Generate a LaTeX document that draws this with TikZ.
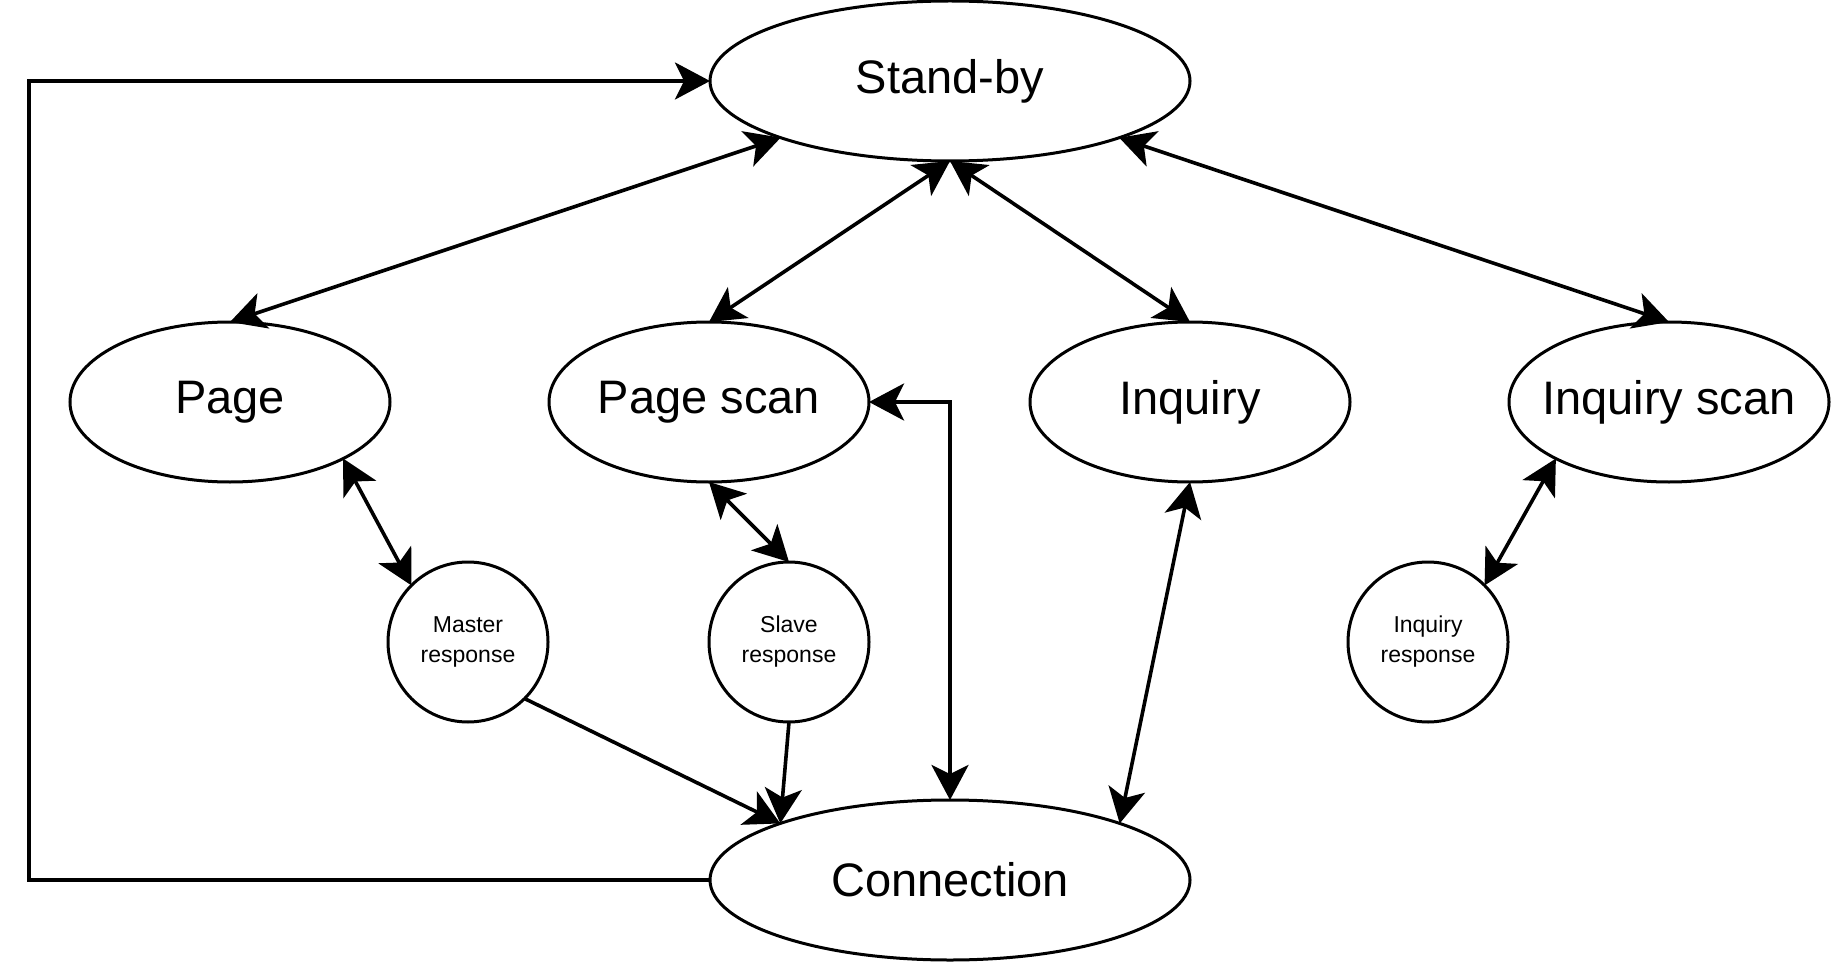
\documentclass[tikz,border=0pt]{standalone}
\usepackage{fontspec}
\setmainfont{Liberation Sans}
\usetikzlibrary{arrows.meta,shapes.geometric}
\newcommand{\zb}[1]{\makebox[0pt][c]{#1}}
\begin{document}
\begin{tikzpicture}[x=0.5pt,y=-0.5pt,
  >={Stealth[length=17.5pt,width=18.5pt,inset=4.5pt]},
  state/.style={ellipse,draw,line width=1.5pt,minimum width=160pt,minimum height=80pt,inner sep=0pt,outer sep=0pt,font=\fontsize{23.5}{28}\selectfont},
  bigstate/.style={state,minimum width=240pt},
  resp/.style={circle,draw,line width=1.5pt,minimum size=80pt,inner sep=0pt,outer sep=0pt,align=center,font=\fontsize{11.5}{15}\selectfont},
  link/.style={line width=1.8pt}]
\useasboundingbox (0,0) rectangle (1836,968);
\node[bigstate] (standby) at (950,81) {\zb{Stand-by}};
\node[bigstate] (connection) at (950,880) {\zb{Connection}};
\node[state] (page) at (230,402) {\zb{Page}};
\node[state] (pagescan) at (709,402) {\zb{Page scan}};
\node[state] (inquiry) at (1190,402) {\zb{Inquiry}};
\node[state] (iscan) at (1669,402) {\zb{Inquiry scan}};
\node[resp] (master) at (468,642) {Master\\response};
\node[resp] (slave) at (789,642) {Slave\\response};
\node[resp] (iresp) at (1428,642) {Inquiry\\response};
\coordinate (lc) at (29,480);
\draw[link,<->] (page.north) -- (standby);
\draw[link,<->] (pagescan.north) -- (standby.south);
\draw[link,<->] (inquiry.north) -- (standby.south);
\draw[link,<->] (iscan.north) -- (standby);
\draw[link,<->] (page.south east) -- (master.north west);
\draw[link,<->] (pagescan.south) -- (slave.north);
\draw[link,<->] (iscan.south west) -- (iresp.north east);
\draw[link,->] (master.south east) -- (connection.north west);
\draw[link,->] (slave.south) -- (connection.north west);
\draw[link,<->] (pagescan.east) -| (connection.north);
\draw[link,<->] (inquiry.south) -- (connection.north east);
\draw[link,->] (connection.west) -- (connection.west -| lc) |- (standby.west);
\end{tikzpicture}
\end{document}
